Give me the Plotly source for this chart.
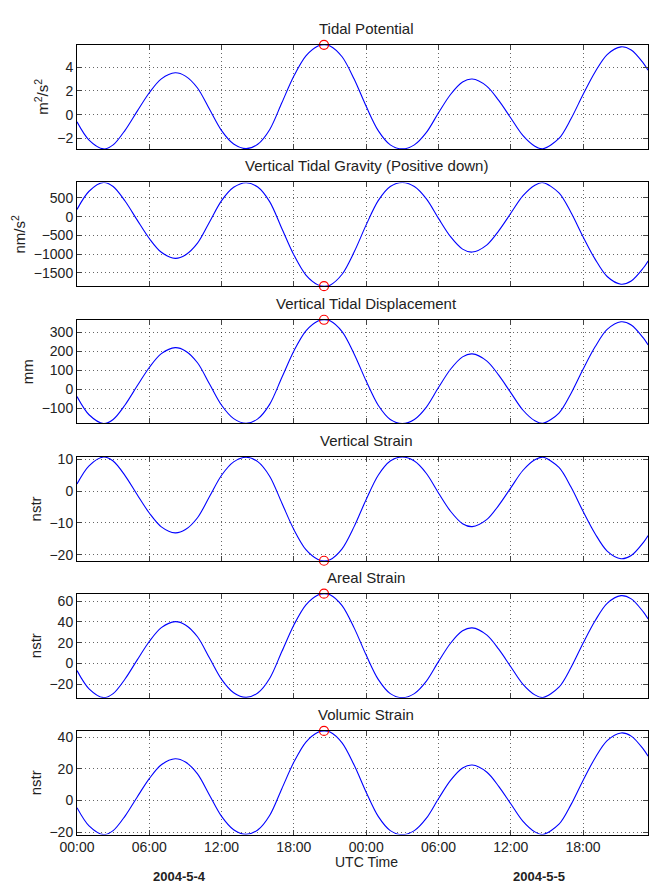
import plotly.graph_objects as go

# ---------------- data ----------------
hours = [0, 1, 2.2, 3, 4, 5, 6, 7, 8.15, 9, 10, 11, 12, 13, 14.03, 15, 16, 17, 18, 19,
         20, 20.5, 21, 22, 23, 24, 25, 26, 27, 28, 29, 30, 31, 32, 32.8, 34, 35, 36, 37,
         38, 38.66, 40, 41, 42, 43, 44, 45.15, 46, 47, 47.4]

tidal_potential = [-0.61, -2.15, -2.89, -2.55, -1.30, 0.30, 1.85, 3.02, 3.53, 3.25, 2.25, 0.45,
                   -1.35, -2.48, -2.87, -2.50, -1.25, 1.00, 3.25, 4.95, 5.78, 5.89, 5.80, 4.88,
                   3.00, 0.70, -1.35, -2.55, -2.89, -2.55, -1.50, 0.15, 1.70, 2.75, 3.00, 2.41,
                   1.20, -0.28, -1.75, -2.66, -2.88, -2.01, -0.35, 1.70, 3.60, 5.07, 5.72, 5.45,
                   4.35, 3.75]

tidal_gravity = [192, 676, 909, 802, 409, -94, -582, -950, -1111, -1022, -708, -142,
                 425, 780, 903, 787, 393, -315, -1022, -1557, -1818, -1853, -1825, -1535,
                 -944, -220, 425, 802, 909, 802, 472, -47, -535, -865, -944, -758,
                 -378, 88, 551, 837, 906, 632, 110, -535, -1133, -1595, -1800, -1715,
                 -1369, -1180]

tidal_displacement = [-37.8, -133.1, -178.9, -157.8, -80.5, 18.6, 114.5, 186.9, 218.5, 201.2, 139.3, 27.9,
                      -83.6, -153.5, -177.7, -154.8, -77.4, 61.9, 201.2, 306.4, 357.8, 364.6, 359.0, 302.1,
                      185.7, 43.3, -83.6, -157.8, -178.9, -157.8, -92.9, 9.3, 105.2, 170.2, 185.7, 149.2,
                      74.3, -17.3, -108.3, -164.7, -178.3, -124.4, -21.7, 105.2, 222.8, 313.8, 354.1, 337.4,
                      269.3, 232.1]

vertical_strain = [2.27, 8.00, 10.75, 9.49, 4.84, -1.12, -6.88, -11.23, -13.13, -12.09, -8.37, -1.67,
                   5.02, 9.23, 10.68, 9.30, 4.65, -3.72, -12.09, -18.41, -21.50, -21.91, -21.58, -18.15,
                   -11.16, -2.60, 5.02, 9.49, 10.75, 9.49, 5.58, -0.56, -6.32, -10.23, -11.16, -8.97,
                   -4.46, 1.04, 6.51, 9.90, 10.71, 7.48, 1.30, -6.32, -13.39, -18.86, -21.28, -20.27,
                   -16.18, -13.95]

areal_strain = [-6.95, -24.51, -32.95, -29.07, -14.82, 3.42, 21.09, 34.43, 40.24, 37.05, 25.65, 5.13,
                -15.39, -28.27, -32.72, -28.50, -14.25, 11.40, 37.05, 56.43, 65.89, 67.15, 66.12, 55.63,
                34.20, 7.98, -15.39, -29.07, -32.95, -29.07, -17.10, 1.71, 19.38, 31.35, 34.20, 27.47,
                13.68, -3.19, -19.95, -30.32, -32.83, -22.91, -3.99, 19.38, 41.04, 57.80, 65.21, 62.13,
                49.59, 42.75]

volumic_strain = [-4.55, -16.04, -21.56, -19.02, -9.70, 2.24, 13.80, 22.53, 26.33, 24.25, 16.79, 3.36,
                  -10.07, -18.50, -21.41, -18.65, -9.33, 7.46, 24.25, 36.93, 43.12, 43.94, 43.27, 36.40,
                  22.38, 5.22, -10.07, -19.02, -21.56, -19.02, -11.19, 1.12, 12.68, 20.52, 22.38, 17.98,
                  8.95, -2.09, -13.06, -19.84, -21.48, -14.99, -2.61, 12.68, 26.86, 37.82, 42.67, 40.66,
                  32.45, 27.98]

peak_hour = 20.5

titles = ["Tidal Potential", "Vertical Tidal Gravity (Positive down)", "Vertical Tidal Displacement",
          "Vertical Strain", "Areal Strain", "Volumic Strain"]
ylabels = ["m<sup>2</sup>/s<sup>2</sup>", "nm/s<sup>2</sup>", "mm", "nstr", "nstr", "nstr"]

tick_hours = [0, 6, 12, 18, 24, 30, 36, 42]
tick_labels = ["00:00", "06:00", "12:00", "18:00", "00:00", "06:00", "12:00", "18:00"]
x_label = "UTC Time"
date_labels = ["2004-5-4", "2004-5-5"]

# ---------------- figure ----------------
W, H = 649, 889
ML = 77
series = [tidal_potential, tidal_gravity, tidal_displacement, vertical_strain, areal_strain, volumic_strain]
dticks = [2, 500, 100, 10, 20, 20]
panel_px = [(39.3, 144.7), (178.7, 283.7), (317.7, 422.7), (456.7, 561.7), (595.0, 700.3), (734.0, 839.0)]
x_end = (W - ML) / 12.07  # hours visible

FONT = "Liberation Sans, Arial, Helvetica, sans-serif"
GRID = dict(showgrid=True, gridcolor="rgba(0,0,0,0.6)", griddash="1px,3px", gridwidth=1)
fig = go.Figure()
layout = {}
pk = hours.index(peak_hour)
title_x = (367 - ML) / (W - ML)

for i, vals in enumerate(series):
    n = i + 1
    sfx = "" if n == 1 else str(n)
    xa, ya = "x" + sfx, "y" + sfx
    fig.add_trace(go.Scatter(x=hours, y=vals, mode="lines",
                             line=dict(color="#0000ff", width=1.1, shape="spline", smoothing=0.9),
                             xaxis=xa, yaxis=ya, showlegend=False, hoverinfo="skip"))
    fig.add_trace(go.Scatter(x=[peak_hour], y=[vals[pk]], mode="markers",
                             marker=dict(symbol="circle-open", size=9, color="red", line=dict(width=1.2, color="red")),
                             cliponaxis=False, xaxis=xa, yaxis=ya, showlegend=False, hoverinfo="skip"))
    top, bot = panel_px[i]
    dom = [1 - bot / H, 1 - top / H]
    layout["xaxis" + sfx] = dict(
        domain=[0, 1], anchor=ya, range=[0, x_end],
        tickmode="array", tickvals=tick_hours, ticktext=tick_labels,
        showticklabels=(n == 6), ticks="inside", ticklen=5, tickcolor="#444",
        showline=True, linecolor="black", linewidth=1, mirror="ticks",
        zeroline=False, tickfont=dict(size=14, color="#222", family=FONT), **GRID,
    )
    layout["yaxis" + sfx] = dict(
        domain=dom, anchor=xa, range=[min(vals), max(vals)],
        dtick=dticks[i], tick0=0, ticks="inside", ticklen=5, tickcolor="#444",
        showline=True, linecolor="black", linewidth=1, mirror="ticks",
        zeroline=False, tickfont=dict(size=14, color="#222", family=FONT), **GRID,
        title=dict(text=ylabels[i], font=dict(size=15, color="#222", family=FONT), standoff=4),
    )

annotations = []
for i, t in enumerate(titles):
    top, bot = panel_px[i]
    annotations.append(dict(text=t, xref="paper", yref="paper", x=title_x, y=1 - top / H,
                            xanchor="center", yanchor="bottom", yshift=6, showarrow=False,
                            font=dict(size=15, color="#222", family=FONT)))
annotations.append(dict(text=x_label, xref="paper", yref="paper", x=title_x, y=1 - 867 / H,
                        xanchor="center", yanchor="middle", showarrow=False,
                        font=dict(size=14, color="#222", family=FONT)))
for txt, px in zip(date_labels, [179.5, 539.5]):
    annotations.append(dict(text="<b>" + txt + "</b>", xref="paper", yref="paper",
                            x=(px - ML) / (W - ML), y=1 - 881 / H,
                            xanchor="center", yanchor="middle", showarrow=False,
                            font=dict(size=13, color="#222", family=FONT)))

fig.update_layout(**layout)
fig.update_layout(width=W, height=H, margin=dict(l=ML, r=0, t=0, b=0),
                  paper_bgcolor="white", plot_bgcolor="white",
                  annotations=annotations, font=dict(family=FONT))

fig.write_html("out.html", config={"displayModeBar": False},
               post_script="document.body.style.margin='0px';")
